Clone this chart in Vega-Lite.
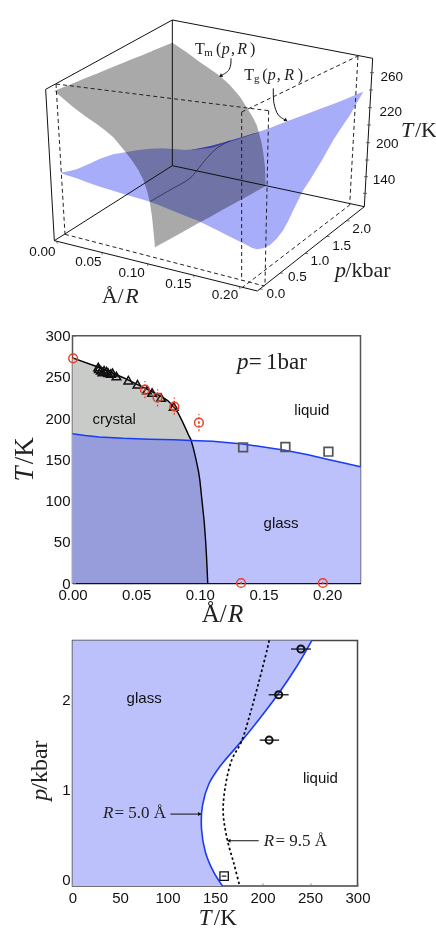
{
"$schema":"https://vega.github.io/schema/vega-lite/v6.json",
"autosize":"none",
"background":"white",
"padding":{"left":72.5,"right":363.5,"top":0,"bottom":930},
"spacing":56.7,
"bounds":"flush",
"config":{"view":{"stroke":null},"axis":{"grid":false,"labelFont":"Liberation Sans","labelFontSize":15,"labelColor":"#111","tickColor":"#777","tickSize":-3,"title":null,"domain":false,"labelFlush":false,"labelOverlap":false},"axisX":{"labelPadding":7},"axisY":{"labelPadding":5.5},"text":{"font":"Liberation Serif"}},
"datasets":{
"greySurface":[{"u":163,"v":273,"v2":273},{"u":190,"v":262,"v2":296},{"u":220,"v":250,"v2":322},{"u":255,"v":235,"v2":348},{"u":290,"v":221,"v2":372},{"u":315,"v":211,"v2":391},{"u":340,"v":200,"v2":412},{"u":370,"v":188,"v2":448},{"u":395,"v":178,"v2":480},{"u":415,"v":170,"v2":510},{"u":430,"v":164,"v2":540},{"u":442,"v":159,"v2":575},{"u":450,"v":156,"v2":610},{"u":456,"v":153.5,"v2":650},{"u":460,"v":151,"v2":690},{"u":463,"v":150,"v2":720},{"u":465,"v":149,"v2":742},{"u":517,"v":128,"v2":713},{"u":560,"v":157,"v2":689},{"u":600,"v":187,"v2":667},{"u":630,"v":207,"v2":651},{"u":660,"v":228,"v2":634},{"u":690,"v":256,"v2":617},{"u":720,"v":290,"v2":601},{"u":745,"v":330,"v2":587},{"u":760,"v":355,"v2":579},{"u":770,"v":375,"v2":573},{"u":780,"v":410,"v2":567.5},{"u":785,"v":430,"v2":565},{"u":790,"v":460,"v2":562},{"u":795,"v":500,"v2":559},{"u":797,"v":558,"v2":558}],
"blueSurface":[{"u":180,"v":518,"v2":518},{"u":205,"v":514,"v2":527},{"u":230,"v":508,"v2":535},{"u":265,"v":493,"v2":548},{"u":300,"v":476,"v2":560},{"u":340,"v":463,"v2":572},{"u":380,"v":456,"v2":585},{"u":415,"v":450,"v2":595},{"u":450,"v":446,"v2":605},{"u":485,"v":445,"v2":619},{"u":520,"v":447,"v2":633},{"u":555,"v":450,"v2":647},{"u":590,"v":447,"v2":661},{"u":620,"v":442,"v2":675},{"u":655,"v":432,"v2":692},{"u":690,"v":422,"v2":710},{"u":740,"v":407,"v2":735},{"u":755,"v":402,"v2":743},{"u":770,"v":398,"v2":748},{"u":790,"v":391,"v2":745},{"u":810,"v":384,"v2":735},{"u":830,"v":376,"v2":716},{"u":850,"v":368,"v2":690},{"u":865,"v":362,"v2":662},{"u":880,"v":357,"v2":630},{"u":895,"v":351,"v2":600},{"u":910,"v":346,"v2":570},{"u":930,"v":338,"v2":540},{"u":965,"v":325,"v2":482},{"u":1000,"v":312,"v2":420},{"u":1025,"v":302,"v2":382},{"u":1050,"v":292,"v2":345},{"u":1070,"v":283,"v2":310},{"u":1090,"v":275,"v2":275}],
"sliver":[{"u":575,"v":449,"v2":450},{"u":635,"v":437,"v2":443},{"u":690,"v":422,"v2":425},{"u":780,"v":395,"v2":396}],
"intersection":[{"u":450,"v":605},{"u":510,"v":570},{"u":570,"v":535},{"u":590,"v":512},{"u":620,"v":475},{"u":650,"v":445},{"u":690,"v":422}],
"solidEdges":[{"u":137,"v":268,"u2":517,"v2":60},{"u":517,"v":60,"u2":1118,"v2":175},{"u":137,"v":268,"u2":163,"v2":722},{"u":163,"v":722,"u2":772,"v2":873},{"u":772,"v":873,"u2":1093,"v2":620},{"u":1093,"v":620,"u2":1118,"v2":175},{"u":163,"v":722,"u2":517,"v2":497},{"u":517,"v":497,"u2":1093,"v2":620},{"u":517,"v":60,"u2":517,"v2":497}],
"dashEdges":[{"u":168,"v":252,"u2":806,"v2":332},{"u":725,"v":336,"u2":1074,"v2":168},{"u":725,"v":336,"u2":725,"v2":842},{"u":806,"v":332,"u2":795,"v2":850},{"u":1074,"v":168,"u2":1049,"v2":615},{"u":168,"v":252,"u2":195,"v2":703},{"u":195,"v":703,"u2":793,"v2":858},{"u":725,"v":864,"u2":1049,"v2":615}],
"boxTicks":[{"u":1110,"v":218,"u2":1122,"v2":218},{"u":1107,"v":270,"u2":1119,"v2":270},{"u":1104,"v":323,"u2":1116,"v2":323},{"u":1101,"v":375,"u2":1113,"v2":375},{"u":1098,"v":428,"u2":1110,"v2":428},{"u":1095,"v":480,"u2":1107,"v2":480},{"u":1092,"v":530,"u2":1104,"v2":530},{"u":1089,"v":580,"u2":1101,"v2":580},{"u":170,"v":724,"u2":172,"v2":731},{"u":305,"v":757,"u2":307,"v2":764},{"u":442,"v":791,"u2":444,"v2":798},{"u":580,"v":825,"u2":582,"v2":832},{"u":718,"v":860,"u2":720,"v2":867},{"u":780,"v":867,"u2":788,"v2":868},{"u":840,"v":819,"u2":849,"v2":820},{"u":915,"v":760,"u2":924,"v2":761},{"u":980,"v":709,"u2":989,"v2":710},{"u":1040,"v":662,"u2":1049,"v2":663}],
"arrowTm":[{"u":665,"v":226},{"u":685,"v":212},{"u":692,"v":195},{"u":693,"v":175}],
"arrowTg":[{"u":820,"v":265},{"u":822,"v":310},{"u":835,"v":345},{"u":856,"v":360}],
"sansTop":[{"u":1175,"v":231,"label":"260"},{"u":1172,"v":336,"label":"220"},{"u":1162,"v":431,"label":"200"},{"u":1152,"v":541,"label":"140"},{"u":127,"v":756,"label":"0.00"},{"u":265,"v":786,"label":"0.05"},{"u":395,"v":819,"label":"0.10"},{"u":535,"v":851,"label":"0.15"},{"u":675,"v":886,"label":"0.20"},{"u":828,"v":881,"label":"0.0"},{"u":892,"v":831,"label":"0.5"},{"u":960,"v":783,"label":"1.0"},{"u":1025,"v":738,"label":"1.5"},{"u":1085,"v":686,"label":"2.0"}],
"serifTop":[{"u":1245,"v":412,"label":"/K"},{"u":1036,"v":830,"label":"/kbar"},{"u":305,"v":908,"label":"Å/"}],
"italicTop":[{"u":1203,"v":412,"label":"T"},{"u":1005,"v":830,"label":"p"},{"u":376,"v":908,"label":"R"}],
"tmParts":[{"u":585,"v":163,"label":"T"},{"u":648,"v":163,"label":"("},{"u":693,"v":163,"label":","},{"u":750,"v":163,"label":")"},{"u":733,"v":240,"label":"T"},{"u":787,"v":240,"label":"("},{"u":830,"v":240,"label":","},{"u":893,"v":240,"label":")"}],
"tmItalic":[{"u":665,"v":163,"label":"p"},{"u":712,"v":163,"label":"R"},{"u":803,"v":240,"label":"p"},{"u":853,"v":240,"label":"R"}],
"tmSub":[{"u":613,"v":168,"label":"m"},{"u":762,"v":247,"label":"g"}],
"crystal":[{"R":0,"T":273},{"R":0.02,"T":262},{"R":0.04,"T":249},{"R":0.06,"T":234},{"R":0.07,"T":226},{"R":0.075,"T":221},{"R":0.08,"T":213},{"R":0.083,"T":206},{"R":0.086,"T":197},{"R":0.089,"T":187},{"R":0.091,"T":180},{"R":0.093,"T":174},{"R":0.095,"T":163},{"R":0.097,"T":150},{"R":0.099,"T":135},{"R":0.1,"T":125},{"R":0.1017,"T":100},{"R":0.103,"T":81},{"R":0.1035,"T":73},{"R":0.1046,"T":50},{"R":0.1055,"T":25},{"R":0.1062,"T":0}],
"glassLine":[{"R":0,"T":181},{"R":0.01,"T":179},{"R":0.021,"T":177.2},{"R":0.04,"T":175.5},{"R":0.0603,"T":174.5},{"R":0.08,"T":173.7},{"R":0.093,"T":173},{"R":0.11,"T":172},{"R":0.134,"T":168.6},{"R":0.15,"T":165},{"R":0.167,"T":161},{"R":0.185,"T":155.5},{"R":0.2,"T":150},{"R":0.215,"T":145},{"R":0.2262,"T":141}],
"overlap":[{"R":0,"T":181},{"R":0.01,"T":179},{"R":0.021,"T":177.2},{"R":0.04,"T":175.5},{"R":0.0603,"T":174.5},{"R":0.08,"T":173.7},{"R":0.093,"T":173},{"R":0.095,"T":163},{"R":0.097,"T":150},{"R":0.099,"T":135},{"R":0.1,"T":125},{"R":0.1017,"T":100},{"R":0.103,"T":81},{"R":0.1035,"T":73},{"R":0.1046,"T":50},{"R":0.1055,"T":25},{"R":0.1062,"T":0}],
"triangles":[{"R":0.0202,"T":262},{"R":0.0207,"T":260},{"R":0.0222,"T":258},{"R":0.0235,"T":256},{"R":0.0248,"T":258},{"R":0.0268,"T":257},{"R":0.028,"T":255},{"R":0.0301,"T":254},{"R":0.0314,"T":255},{"R":0.0345,"T":251},{"R":0.0439,"T":246},{"R":0.051,"T":241},{"R":0.0585,"T":234},{"R":0.0625,"T":231},{"R":0.0695,"T":225},{"R":0.0795,"T":214}],
"redCircles":[{"R":0.0005,"T":272.5,"lo":272.5,"hi":272.5},{"R":0.0569,"T":234.5,"lo":224,"hi":245},{"R":0.0668,"T":225,"lo":214,"hi":235},{"R":0.08,"T":214,"lo":204,"hi":225},{"R":0.0993,"T":194.5,"lo":184,"hi":205},{"R":0.1324,"T":0,"lo":0,"hi":0},{"R":0.1966,"T":0,"lo":0,"hi":0}],
"squares":[{"R":0.134,"T":164.6},{"R":0.1672,"T":165},{"R":0.201,"T":159.3}],
"labels2":[{"R":0.0328,"T":199,"label":"crystal"},{"R":0.188,"T":210,"label":"liquid"},{"R":0.1638,"T":73,"label":"glass"}],
"pressureRoman":[{"R":0.1385,"T":260,"label":"="},{"R":0.152,"T":260,"label":"1bar"}],
"tgR5":[{"T":158,"p":-0.078},{"T":148.8,"p":0.074},{"T":140,"p":0.296},{"T":135.8,"p":0.556},{"T":136.8,"p":0.815},{"T":143.5,"p":1.056},{"T":155.8,"p":1.259},{"T":176.8,"p":1.519},{"T":197.9,"p":1.796},{"T":219,"p":2.093},{"T":236.5,"p":2.37},{"T":252,"p":2.652}],
"tgR95":[{"T":176,"p":-0.078},{"T":170,"p":0.167},{"T":162.8,"p":0.444},{"T":158.6,"p":0.741},{"T":161,"p":1.037},{"T":168,"p":1.333},{"T":177.5,"p":1.519},{"T":187.4,"p":1.852},{"T":196,"p":2.185},{"T":205,"p":2.556},{"T":207,"p":2.652}],
"circles3":[{"T":240.4,"p":2.556,"lo":230,"hi":251},{"T":217,"p":2.048,"lo":206.5,"hi":227.5},{"T":207,"p":1.544,"lo":197,"hi":217.5}],
"square3":[{"T":159.6,"p":0.033,"lo":157,"hi":162}],
"labels3":[{"T":75.4,"p":2.01,"label":"glass"},{"T":261,"p":1.122,"label":"liquid"}],
"arrow5":[{"T":103,"p":0.722,"T2":135}],
"arrow95":[{"T":196,"p":0.426,"T2":165}]
},
"vconcat":[
{"width":288,"height":279,
"encoding":{"x":{"field":"u","type":"quantitative","scale":{"domain":[217.5,1081.5],"nice":false,"zero":false},"axis":null},"y":{"field":"v","type":"quantitative","scale":{"domain":[0,837],"reverse":true,"nice":false,"zero":false},"axis":null}},
"layer":[
{"data":{"name":"greySurface"},"mark":{"type":"area","color":"#a9a9a9"},"encoding":{"y2":{"field":"v2"}}},
{"data":{"name":"blueSurface"},"mark":{"type":"area","color":"#a8adfa","blend":"multiply"},"encoding":{"y2":{"field":"v2"}}},
{"data":{"name":"sliver"},"mark":{"type":"area","color":"#3a3cb0"},"encoding":{"y2":{"field":"v2"}}},
{"data":{"name":"intersection"},"mark":{"type":"line","color":"#2a2a50","strokeWidth":0.8,"interpolate":"catmull-rom"}},
{"data":{"name":"solidEdges"},"mark":{"type":"rule","color":"#111","strokeWidth":1},"encoding":{"x2":{"field":"u2"},"y2":{"field":"v2"}}},
{"data":{"name":"dashEdges"},"mark":{"type":"rule","color":"#222","strokeWidth":1,"strokeDash":[4,3]},"encoding":{"x2":{"field":"u2"},"y2":{"field":"v2"}}},
{"data":{"name":"boxTicks"},"mark":{"type":"rule","color":"#333","strokeWidth":0.7},"encoding":{"x2":{"field":"u2"},"y2":{"field":"v2"}}},
{"data":{"name":"arrowTm"},"mark":{"type":"line","color":"#111","strokeWidth":1,"interpolate":"catmull-rom"}},
{"data":{"name":"arrowTg"},"mark":{"type":"line","color":"#111","strokeWidth":1,"interpolate":"catmull-rom"}},
{"data":{"values":[{"u":662,"v":228}]},"mark":{"type":"point","shape":"triangle-up","filled":true,"color":"#111","opacity":1,"size":16,"angle":235}},
{"data":{"values":[{"u":858,"v":361}]},"mark":{"type":"point","shape":"triangle-up","filled":true,"color":"#111","opacity":1,"size":16,"angle":123}},
{"data":{"name":"sansTop"},"mark":{"type":"text","font":"Liberation Sans","fontSize":13.5,"color":"#111","baseline":"middle"},"encoding":{"text":{"field":"label"}}},
{"data":{"name":"serifTop"},"mark":{"type":"text","fontSize":22,"color":"#222","align":"left","baseline":"alphabetic"},"encoding":{"text":{"field":"label"}}},
{"data":{"name":"italicTop"},"mark":{"type":"text","fontSize":22,"fontStyle":"italic","color":"#222","align":"left","baseline":"alphabetic"},"encoding":{"text":{"field":"label"}}},
{"data":{"name":"tmParts"},"mark":{"type":"text","fontSize":16,"color":"#222","align":"left","baseline":"alphabetic"},"encoding":{"text":{"field":"label"}}},
{"data":{"name":"tmItalic"},"mark":{"type":"text","fontSize":16,"fontStyle":"italic","color":"#222","align":"left","baseline":"alphabetic"},"encoding":{"text":{"field":"label"}}},
{"data":{"name":"tmSub"},"mark":{"type":"text","fontSize":11,"color":"#222","align":"left","baseline":"alphabetic"},"encoding":{"text":{"field":"label"}}}
]},
{"width":288,"height":247.3,"view":{"stroke":"#555","strokeWidth":1.5},
"encoding":{"x":{"field":"R","type":"quantitative","scale":{"domain":[0,0.2262],"nice":false,"zero":false},"axis":{"values":[0,0.05,0.1,0.15,0.2],"format":".2f","domain":true,"domainColor":"#111","domainWidth":1.5}},"y":{"field":"T","type":"quantitative","stack":null,"scale":{"domain":[0,300],"nice":false},"axis":{"values":[0,50,100,150,200,250,300]}}},
"layer":[
{"data":{"name":"crystal"},"mark":{"type":"area","color":"#c9cbc9"},"encoding":{"y2":{"datum":0}}},
{"data":{"name":"glassLine"},"mark":{"type":"area","color":"#bcc0fb"},"encoding":{"y2":{"datum":0}}},
{"data":{"name":"overlap"},"mark":{"type":"area","color":"#979ddb"},"encoding":{"y2":{"datum":0}}},
{"data":{"name":"crystal"},"mark":{"type":"line","color":"#000","strokeWidth":1.4}},
{"data":{"name":"glassLine"},"mark":{"type":"line","color":"#1a3cf0","strokeWidth":1.5}},
{"data":{"name":"triangles"},"mark":{"type":"point","shape":"triangle-up","filled":false,"color":"#111","opacity":1,"size":75,"strokeWidth":1.5}},
{"data":{"name":"squares"},"mark":{"type":"point","shape":"square","filled":false,"color":"#555","opacity":1,"size":75,"strokeWidth":1.7}},
{"data":{"name":"redCircles"},"mark":{"type":"rule","color":"#e8402a","strokeWidth":1.2,"strokeDash":[2,2]},"encoding":{"y":{"field":"lo","type":"quantitative"},"y2":{"field":"hi"}}},
{"data":{"name":"redCircles"},"mark":{"type":"point","shape":"circle","filled":false,"color":"#e8402a","opacity":1,"size":76,"strokeWidth":1.5}},
{"data":{"name":"redCircles"},"mark":{"type":"point","shape":"circle","filled":true,"color":"#e8402a","opacity":1,"size":4}},
{"data":{"name":"labels2"},"mark":{"type":"text","font":"Liberation Sans","fontSize":15,"color":"#111","baseline":"middle"},"encoding":{"text":{"field":"label"}}},
{"data":{"values":[{"R":0.1211,"T":-47,"label":"Å/"}]},"mark":{"type":"text","fontSize":25,"color":"#222","align":"right","baseline":"alphabetic"},"encoding":{"text":{"field":"label"}}},
{"data":{"values":[{"R":0.1221,"T":-47,"label":"R"}]},"mark":{"type":"text","fontSize":25,"fontStyle":"italic","color":"#222","align":"left","baseline":"alphabetic"},"encoding":{"text":{"field":"label"}}},
{"data":{"values":[{"R":-0.0309,"T":123,"label":"T"}]},"mark":{"type":"text","fontSize":27,"fontStyle":"italic","color":"#222","align":"left","baseline":"alphabetic","angle":270},"encoding":{"text":{"field":"label"}}},
{"data":{"values":[{"R":-0.0309,"T":144,"label":"/K"}]},"mark":{"type":"text","fontSize":27,"color":"#222","align":"left","baseline":"alphabetic","angle":270},"encoding":{"text":{"field":"label"}}},
{"data":{"values":[{"R":0.1292,"T":260,"label":"p"}]},"mark":{"type":"text","fontSize":23,"fontStyle":"italic","color":"#222","align":"left","baseline":"alphabetic"},"encoding":{"text":{"field":"label"}}},
{"data":{"name":"pressureRoman"},"mark":{"type":"text","fontSize":23,"color":"#222","align":"left","baseline":"alphabetic"},"encoding":{"text":{"field":"label"}}}
]},
{"width":285,"height":245.7,"view":{"stroke":"#444","strokeWidth":1.5},
"encoding":{"x":{"field":"T","type":"quantitative","stack":null,"scale":{"domain":[0,300],"nice":false,"zero":false},"axis":{"values":[0,50,100,150,200,250,300]}},"y":{"field":"p","type":"quantitative","stack":null,"scale":{"domain":[-0.078,2.652],"nice":false,"zero":false},"axis":{"values":[0,1,2],"format":"d"}}},
"layer":[
{"data":{"name":"tgR5"},"mark":{"type":"area","orient":"horizontal","color":"#bcc0fb","interpolate":"catmull-rom"},"encoding":{"x2":{"datum":0}}},
{"data":{"name":"tgR5"},"mark":{"type":"line","orient":"horizontal","color":"#1a3cf0","strokeWidth":1.6,"interpolate":"catmull-rom"}},
{"data":{"name":"tgR95"},"mark":{"type":"line","orient":"horizontal","color":"#000","strokeWidth":1.7,"strokeDash":[2.5,2.5],"interpolate":"catmull-rom"}},
{"data":{"name":"circles3"},"mark":{"type":"rule","color":"#111","strokeWidth":1.3},"encoding":{"x":{"field":"lo","type":"quantitative"},"x2":{"field":"hi"}}},
{"data":{"name":"circles3"},"mark":{"type":"point","shape":"circle","filled":false,"color":"#111","opacity":1,"size":50,"strokeWidth":2}},
{"data":{"name":"square3"},"mark":{"type":"rule","color":"#111","strokeWidth":1.2},"encoding":{"x":{"field":"lo","type":"quantitative"},"x2":{"field":"hi"}}},
{"data":{"name":"square3"},"mark":{"type":"point","shape":"square","filled":false,"color":"#111","opacity":1,"size":70,"strokeWidth":1.3}},
{"data":{"name":"labels3"},"mark":{"type":"text","font":"Liberation Sans","fontSize":15,"color":"#111","baseline":"middle"},"encoding":{"text":{"field":"label"}}},
{"data":{"name":"arrow5"},"mark":{"type":"rule","color":"#111","strokeWidth":1},"encoding":{"x2":{"field":"T2"}}},
{"data":{"name":"arrow95"},"mark":{"type":"rule","color":"#111","strokeWidth":1},"encoding":{"x2":{"field":"T2"}}},
{"data":{"values":[{"T":134,"p":0.722}]},"mark":{"type":"point","shape":"triangle-right","filled":true,"color":"#111","opacity":1,"size":16}},
{"data":{"values":[{"T":164.5,"p":0.426}]},"mark":{"type":"point","shape":"triangle-left","filled":true,"color":"#111","opacity":1,"size":16}},
{"data":{"values":[{"T":32,"p":0.674,"label":"R"},{"T":201.4,"p":0.37,"label":"R"}]},"mark":{"type":"text","fontSize":17,"fontStyle":"italic","color":"#222","align":"left","baseline":"alphabetic"},"encoding":{"text":{"field":"label"}}},
{"data":{"values":[{"T":44.2,"p":0.674,"label":"= 5.0 Å"},{"T":213.7,"p":0.37,"label":"= 9.5 Å"}]},"mark":{"type":"text","fontSize":17,"color":"#222","align":"left","baseline":"alphabetic"},"encoding":{"text":{"field":"label"}}},
{"data":{"values":[{"T":133,"p":-0.505,"label":"T"}]},"mark":{"type":"text","fontSize":23,"fontStyle":"italic","color":"#222","align":"left","baseline":"alphabetic"},"encoding":{"text":{"field":"label"}}},
{"data":{"values":[{"T":148.8,"p":-0.505,"label":"/K"}]},"mark":{"type":"text","fontSize":23,"color":"#222","align":"left","baseline":"alphabetic"},"encoding":{"text":{"field":"label"}}},
{"data":{"values":[{"T":-26.7,"p":0.87,"label":"p"}]},"mark":{"type":"text","fontSize":24,"fontStyle":"italic","color":"#222","align":"left","baseline":"alphabetic","angle":270},"encoding":{"text":{"field":"label"}}},
{"data":{"values":[{"T":-26.7,"p":0.993,"label":"/kbar"}]},"mark":{"type":"text","fontSize":24,"color":"#222","align":"left","baseline":"alphabetic","angle":270},"encoding":{"text":{"field":"label"}}}
]}
]
}
